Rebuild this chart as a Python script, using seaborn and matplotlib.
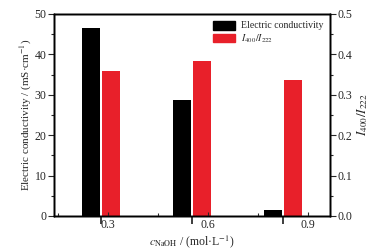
import matplotlib
matplotlib.use("Agg")
import matplotlib.pyplot as plt
import seaborn as sns
import pandas as pd
from matplotlib.ticker import MultipleLocator
from matplotlib.patches import Patch

# values
conc = [0.3, 0.6, 0.9]
conductivity = [46.6, 28.7, 1.5]      # mS/cm
ratio = [0.359, 0.384, 0.337]         # I400/I222
series_names = ["Electric conductivity", "$I_{400}/I_{222}$"]
colors = ["#000000", "#e8202a"]

sns.set_theme(style="ticks")
plt.rcParams["font.family"] = ["Liberation Serif", "DejaVu Serif"]
plt.rcParams["mathtext.fontset"] = "stix"
plt.rcParams["axes.linewidth"] = 1.0

# right axis is 0-0.5 while left is 0-50, so ratio bars are drawn on the left scale x100
labels = [str(c) for c in conc]
df = pd.concat([
    pd.DataFrame({"conc": labels, "value": conductivity, "series": series_names[0]}),
    pd.DataFrame({"conc": labels, "value": [r * 100 for r in ratio], "series": series_names[1]}),
])

fig, ax = plt.subplots(figsize=(3.79, 2.52), dpi=100)
fig.subplots_adjust(left=54 / 379, right=330 / 379, top=1 - 14 / 252, bottom=1 - 216 / 252)

sns.barplot(data=df, x="conc", y="value", hue="series", hue_order=series_names,
            palette=colors, width=0.43, gap=0.06, saturation=1, linewidth=0,
            ax=ax, legend=False)
ax.set_xlim(-0.516, 2.516)

fs = 8.5
ax.set_ylim(0, 50)
ax.yaxis.set_major_locator(MultipleLocator(10))
ax.yaxis.set_minor_locator(MultipleLocator(5))
ax.set_ylabel("Electric conductivity / (mS·cm$^{-1}$)", fontsize=8, labelpad=0.5)
ax.set_xlabel("")
ax.tick_params(axis="x", bottom=False, labelbottom=False)
ax.tick_params(axis="y", which="major", direction="out", length=4, width=0.8, labelsize=fs, pad=1.5)
ax.tick_params(axis="y", which="minor", direction="out", length=2, width=0.8)

ax2 = ax.twinx()
ax2.set_ylim(0, 0.5)
ax2.yaxis.set_major_locator(MultipleLocator(0.1))
ax2.yaxis.set_minor_locator(MultipleLocator(0.05))
ax2.set_ylabel("$I_{400}/I_{222}$", fontsize=9.5, labelpad=2)
ax2.tick_params(axis="y", which="major", direction="out", length=4, width=0.8, labelsize=fs, pad=1.5)
ax2.tick_params(axis="y", which="minor", direction="out", length=2, width=0.8)

# numeric concentration axis along the bottom
axc = ax.twiny()
axc.set_xlim(0.138, 0.966)
axc.xaxis.set_ticks_position("bottom")
axc.xaxis.set_label_position("bottom")
axc.set_xticks(conc)
axc.set_xticklabels([str(c) for c in conc])
axc.xaxis.set_minor_locator(MultipleLocator(0.15))
axc.tick_params(axis="x", which="major", direction="in", length=3, width=0.8, labelsize=fs, pad=2)
axc.tick_params(axis="x", which="minor", direction="in", length=2, width=0.8)
axc.set_xlabel("$c_{\\mathrm{NaOH}}$ / (mol·L$^{-1}$)", fontsize=fs, labelpad=2)

for a in (ax, ax2, axc):
    for s in a.spines.values():
        s.set_linewidth(1.0)
        s.set_color("black")

handles = [Patch(facecolor=c, edgecolor=c) for c in colors]
ax.legend(handles, series_names, loc="upper right", frameon=False, fontsize=7,
          handlelength=2.3, handleheight=1.0, handletextpad=0.6, labelspacing=0.2,
          borderaxespad=0.3)

fig.savefig("out.png", dpi=100)
